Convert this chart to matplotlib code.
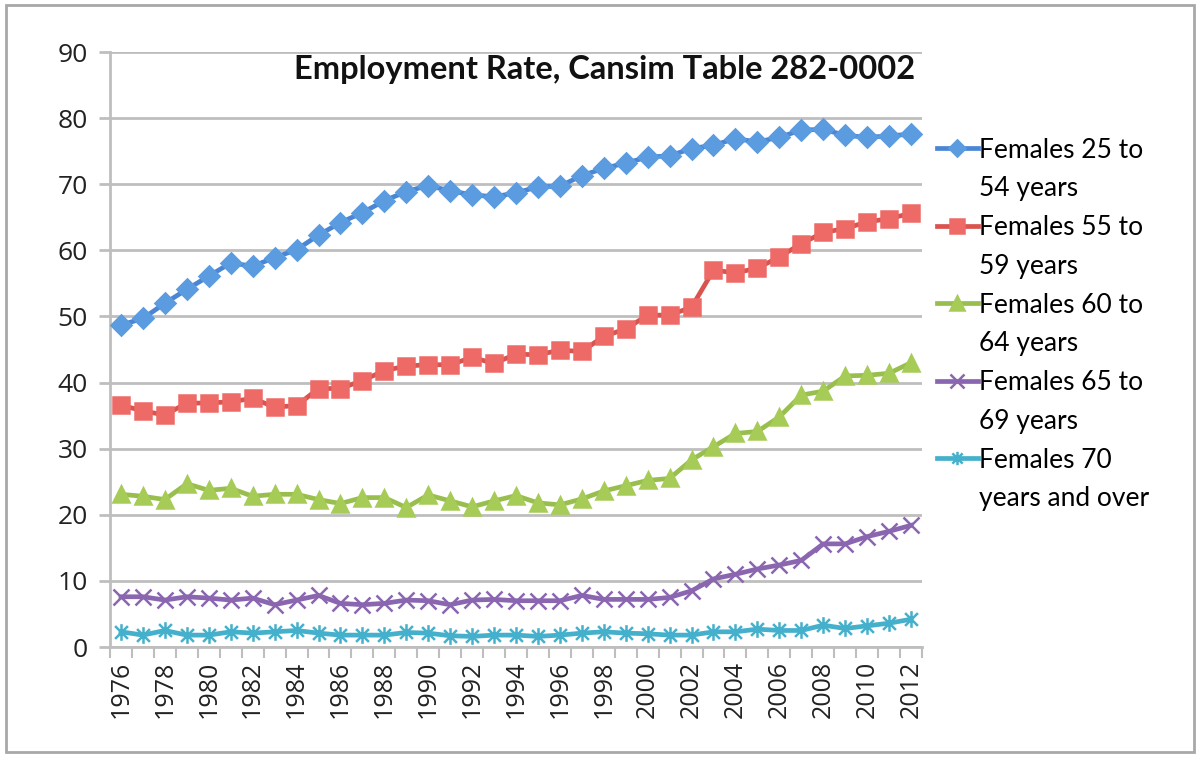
import matplotlib
matplotlib.use("Agg")
import matplotlib.pyplot as plt
from matplotlib.lines import Line2D
from matplotlib.path import Path
from matplotlib.patches import Rectangle

years = list(range(1976, 2013))

f25_54 = [48.7, 49.7, 52.0, 54.1, 56.1, 58.1, 57.6, 58.9, 60.1, 62.3, 64.2, 65.7, 67.5,
          68.9, 69.8, 69.0, 68.4, 68.1, 68.7, 69.6, 69.7, 71.3, 72.4, 73.2, 74.1, 74.3,
          75.4, 75.9, 76.9, 76.4, 77.1, 78.2, 78.3, 77.4, 77.1, 77.3, 77.6]
f55_59 = [36.6, 35.7, 35.1, 36.9, 36.9, 37.1, 37.6, 36.3, 36.5, 39.1, 39.1, 40.3, 41.8,
          42.5, 42.7, 42.7, 43.8, 42.9, 44.3, 44.2, 44.9, 44.7, 47.0, 48.1, 50.2, 50.2,
          51.4, 57.0, 56.6, 57.3, 59.0, 61.0, 62.7, 63.3, 64.3, 64.8, 65.6]
f60_64 = [23.1, 22.8, 22.3, 24.7, 23.7, 24.0, 22.8, 23.1, 23.1, 22.3, 21.7, 22.6, 22.6,
          21.1, 23.0, 22.1, 21.2, 22.1, 22.9, 21.8, 21.5, 22.4, 23.6, 24.4, 25.2, 25.5,
          28.3, 30.3, 32.3, 32.6, 34.8, 38.1, 38.7, 41.0, 41.1, 41.4, 43.0]
f65_69 = [7.6, 7.6, 7.1, 7.6, 7.4, 7.1, 7.4, 6.4, 7.1, 7.8, 6.6, 6.4, 6.6,
          7.1, 7.0, 6.4, 7.1, 7.2, 7.0, 7.0, 7.0, 7.8, 7.2, 7.2, 7.2, 7.5,
          8.5, 10.3, 11.0, 11.8, 12.4, 13.1, 15.6, 15.6, 16.7, 17.5, 18.4]
f70_plus = [2.3, 1.8, 2.5, 1.8, 1.8, 2.3, 2.1, 2.3, 2.5, 2.1, 1.8, 1.8, 1.8,
            2.2, 2.1, 1.7, 1.6, 1.8, 1.8, 1.6, 1.8, 2.1, 2.3, 2.1, 2.0, 1.8,
            1.8, 2.3, 2.3, 2.7, 2.5, 2.5, 3.3, 2.8, 3.2, 3.6, 4.2]

labels = [("Females 25 to", "54 years"), ("Females 55 to", "59 years"),
          ("Females 60 to", "64 years"), ("Females 65 to", "69 years"),
          ("Females 70", "years and over")]

# excel style asterisk marker
star = Path([(-1, -1), (1, 1), (-1, 1), (1, -1), (0, -1.3), (0, 1.3)],
            [Path.MOVETO, Path.LINETO, Path.MOVETO, Path.LINETO, Path.MOVETO, Path.LINETO])

fig = plt.figure(figsize=(12, 7.57), dpi=100)
ax = fig.add_axes([0.0917, 0.1453, 0.6766, 0.7860])

grid_c = "#BEBEBE"
series = [
    (f25_54, "#4A86D4", "#5B9BE0", "D", 10),
    (f55_59, "#D9534F", "#EE6A66", "s", 12),
    (f60_64, "#98BF4E", "#A6CC57", "^", 12),
    (f65_69, "#8A66B0", "#8A66B0", "x", 12),
    (f70_plus, "#45B0CB", "#45B0CB", star, 12),
]

handles = []
for vals, lc, mc, mk, ms in series:
    line, = ax.plot(years, vals, color=lc, lw=3.4, marker=mk, markersize=ms,
                    markerfacecolor=mc, markeredgecolor=mc, markeredgewidth=1.8,
                    solid_joinstyle="round", zorder=3)
    handles.append(line)

ax.set_xlim(1975.5, 2012.5)
ax.set_ylim(0, 90)
ax.set_yticks(range(0, 91, 10))
ax.yaxis.grid(True, color=grid_c, lw=2)
ax.set_axisbelow(True)

# ticks between categories, labels every two years
ax.set_xticks([y + 0.5 for y in range(1975, 2013)])
ax.set_xticklabels([])
ax.set_xticks(years[::2], minor=True)
ax.set_xticklabels([str(y) for y in years[::2]], minor=True, rotation=90,
                   fontsize=18, family="Open Sans", color="#222222")
ax.tick_params(axis="x", which="major", length=8, width=1.5, color=grid_c)
ax.tick_params(axis="x", which="minor", length=0, pad=10)
ax.tick_params(axis="y", length=8, width=2, color=grid_c, labelsize=19, pad=8,
               labelcolor="#222222")
for t in ax.get_yticklabels():
    t.set_family("Open Sans")

for s in ["top", "right"]:
    ax.spines[s].set_visible(False)
for s in ["left", "bottom"]:
    ax.spines[s].set_color(grid_c)
    ax.spines[s].set_linewidth(2)

ax.text(0.992, 0.97, "Employment Rate, Cansim Table 282-0002", transform=ax.transAxes,
        ha="right", va="center", fontsize=23.5, fontweight="bold", family="Lato",
        color="#111111")

blank = Line2D([], [], color="none")
leg_h, leg_l = [], []
for h, (a, b) in zip(handles, labels):
    leg_h += [h, blank]
    leg_l += [a, b]
fig.legend(leg_h, leg_l, loc="upper left", bbox_to_anchor=(0.772, 0.832),
           frameon=False, handlelength=1.55, handletextpad=0.05,
           labelspacing=0.52, borderaxespad=0, prop={"family": "Lato", "size": 19},
           markerscale=0.8)

fig.patches.append(Rectangle((0.005, 0.006), 0.99, 0.988, transform=fig.transFigure,
                             fill=False, edgecolor="#A8A8A8", lw=2))

fig.savefig("out.png", dpi=100)
